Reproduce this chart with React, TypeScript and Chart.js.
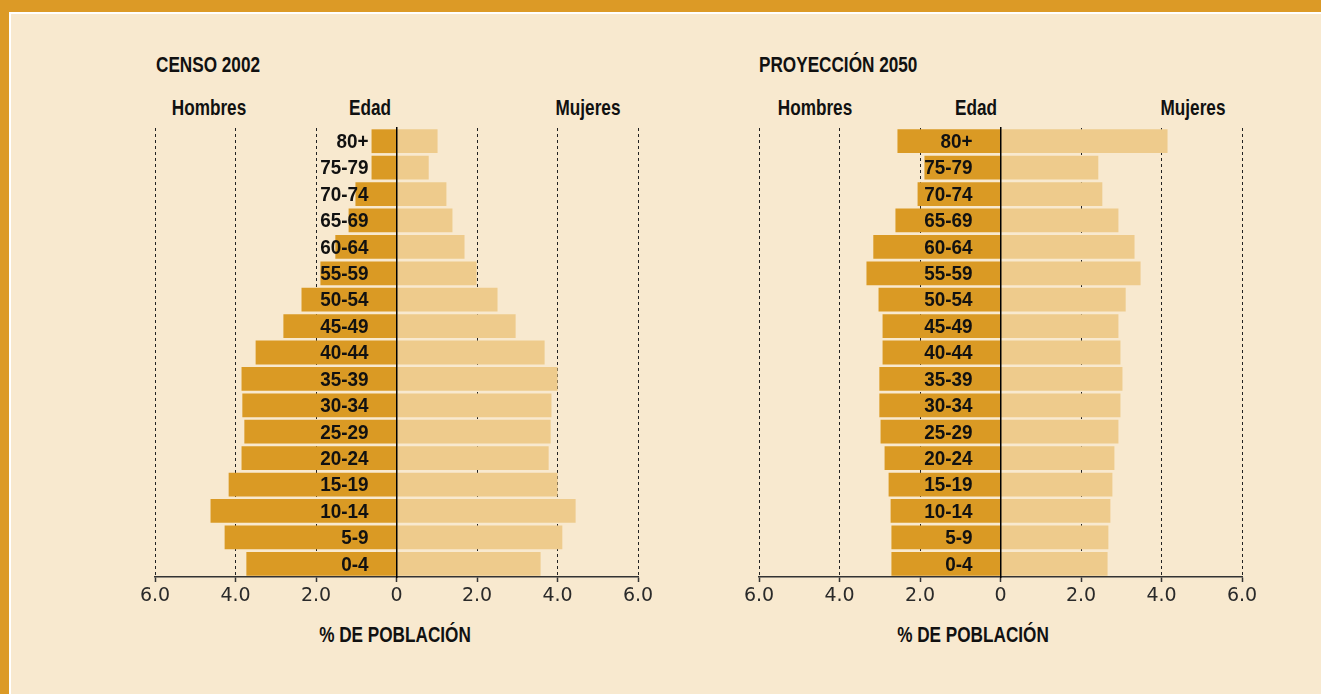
import React, { useEffect, useRef } from 'react';
import { Chart, registerables } from 'chart.js';

Chart.register(...registerables);

// ---- Data (top row first) ----
const ageGroups = ['80+', '75-79', '70-74', '65-69', '60-64', '55-59', '50-54', '45-49', '40-44', '35-39', '30-34', '25-29', '20-24', '15-19', '10-14', '5-9', '0-4'];

const censo2002Hombres = [0.62, 0.62, 1.02, 1.19, 1.52, 1.89, 2.36, 2.81, 3.5, 3.85, 3.83, 3.78, 3.85, 4.17, 4.62, 4.27, 3.73];
const censo2002Mujeres = [1.02, 0.8, 1.24, 1.39, 1.69, 1.99, 2.51, 2.96, 3.68, 4.0, 3.85, 3.83, 3.78, 4.0, 4.45, 4.12, 3.58];

const proyeccion2050Hombres = [2.56, 1.89, 2.06, 2.61, 3.16, 3.33, 3.03, 2.93, 2.93, 3.01, 3.01, 2.98, 2.88, 2.78, 2.73, 2.71, 2.71];
const proyeccion2050Mujeres = [4.15, 2.43, 2.53, 2.93, 3.33, 3.48, 3.11, 2.93, 2.98, 3.03, 2.98, 2.93, 2.83, 2.78, 2.73, 2.68, 2.66];

const xTickValues = [-6, -4, -2, 0, 2, 4, 6];
const xTickLabels = ['6.0', '4.0', '2.0', '0', '2.0', '4.0', '6.0'];

// ---- Styles ----
const FRAME = '#DC9A26';
const PANEL = '#F8E9CF';
const MALE = '#DA9A24';
const FEMALE = '#EECB8C';
const HEAD_FONT = "'Liberation Sans', Arial, sans-serif";

const ageLabelPlugin = {
  id: 'ageLabels',
  afterDatasetsDraw(chart: any) {
    const { ctx, scales } = chart;
    const x = scales.x;
    const y = scales.y;
    const labels = chart.data.labels as string[];
    const xr = x.getPixelForValue(0) - 28;
    ctx.save();
    ctx.font = "bold 21px 'Liberation Sans', Arial, sans-serif";
    ctx.fillStyle = '#111';
    ctx.textAlign = 'right';
    ctx.textBaseline = 'middle';
    labels.forEach((l, i) => {
      ctx.save();
      ctx.translate(xr, y.getPixelForValue(i) + 1);
      ctx.scale(0.9, 1);
      ctx.fillText(l, 0, 0);
      ctx.restore();
    });
    ctx.restore();
  },
};

function Pyramid({ men, women, left, top }: { men: number[]; women: number[]; left: number; top: number }) {
  const ref = useRef<HTMLCanvasElement>(null);
  useEffect(() => {
    const chart = new Chart(ref.current as HTMLCanvasElement, {
      type: 'bar',
      data: {
        labels: ageGroups,
        datasets: [
          {
            label: 'Hombres',
            data: men.map((v) => -v),
            backgroundColor: MALE,
            borderWidth: 0,
            barPercentage: 0.9,
            categoryPercentage: 1,
          },
          {
            label: 'Mujeres',
            data: women,
            backgroundColor: FEMALE,
            borderWidth: 0,
            barPercentage: 0.9,
            categoryPercentage: 1,
          },
        ],
      },
      options: {
        indexAxis: 'y',
        animation: false,
        responsive: false,
        maintainAspectRatio: false,
        layout: { padding: { left: 25, right: 22, top: 10, bottom: 0 } },
        plugins: { legend: { display: false }, tooltip: { enabled: false } },
        scales: {
          x: {
            type: 'linear',
            min: -6,
            max: 6,
            stacked: true,
            afterFit: (s: any) => {
              s.height = 41;
            },
            afterBuildTicks: (s: any) => {
              s.ticks = xTickValues.map((v) => ({ value: v }));
            },
            ticks: {
              autoSkip: false,
              maxRotation: 0,
              padding: 3,
              color: '#2a2a2a',
              font: { family: "'DejaVu Sans', sans-serif", size: 19 },
              callback: (_v: any, i: number) => xTickLabels[i],
            },
            grid: {
              color: (c: any) => (c.tick && c.tick.value === 0 ? 'rgba(0,0,0,0)' : '#222'),
              lineWidth: 1,
              drawTicks: true,
              tickLength: 5,
              tickColor: '#333',
              tickWidth: 1.5,
              tickBorderDash: [],
            },
            border: { display: true, color: '#333', width: 1.5, dash: [3, 3] },
          },
          y: {
            type: 'category',
            stacked: true,
            position: { x: 0 } as any,
            grid: { display: false, drawTicks: false },
            ticks: { display: false },
            border: { display: true, color: '#000', width: 1.5, z: 1 },
          },
        },
      },
      plugins: [ageLabelPlugin],
    } as any);
    return () => chart.destroy();
  }, [men, women]);
  return (
    <canvas
      ref={ref}
      width={530}
      height={500}
      style={{ position: 'absolute', left, top, width: 530, height: 500, display: 'block' }}
    />
  );
}

function Txt({ x, y, children, center }: { x: number; y: number; children: React.ReactNode; center?: boolean }) {
  return (
    <div
      style={{
        position: 'absolute',
        left: x,
        top: y,
        transform: center ? 'translateX(-50%) scaleX(0.78)' : 'scaleX(0.78)',
        transformOrigin: center ? 'center center' : 'left center',
        whiteSpace: 'nowrap',
        fontFamily: HEAD_FONT,
        fontWeight: 'bold',
        fontSize: 22,
        lineHeight: 1,
        color: '#111',
      }}
    >
      {children}
    </div>
  );
}

export default function App() {
  return (
    <div style={{ position: 'fixed', left: 0, top: 0, width: 1321, height: 694, background: FRAME, overflow: 'hidden' }}>
      <div style={{ position: 'absolute', left: 9, top: 12, right: 0, bottom: 0, background: '#FFFFFF' }} />
      <div style={{ position: 'absolute', left: 11, top: 14, right: 0, bottom: 0, background: PANEL }} />

      <Txt x={156} y={54}>CENSO 2002</Txt>
      <Txt x={209} y={97} center>Hombres</Txt>
      <Txt x={370} y={97} center>Edad</Txt>
      <Txt x={588} y={97} center>Mujeres</Txt>
      <Pyramid men={censo2002Hombres} women={censo2002Mujeres} left={130} top={118} />
      <Txt x={395} y={624} center>% DE POBLACIÓN</Txt>

      <Txt x={759} y={54}>PROYECCIÓN 2050</Txt>
      <Txt x={815} y={97} center>Hombres</Txt>
      <Txt x={976} y={97} center>Edad</Txt>
      <Txt x={1193} y={97} center>Mujeres</Txt>
      <Pyramid men={proyeccion2050Hombres} women={proyeccion2050Mujeres} left={734} top={118} />
      <Txt x={973} y={624} center>% DE POBLACIÓN</Txt>
    </div>
  );
}
